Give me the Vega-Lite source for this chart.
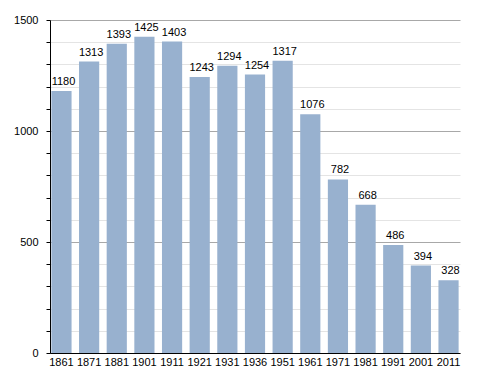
{
  "$schema": "https://vega.github.io/schema/vega-lite/v6.json",
  "width": 410,
  "height": 333,
  "autosize": "none",
  "padding": {"left": 50, "top": 20, "right": 28, "bottom": 20},
  "background": "white",
  "config": {"view": {"stroke": null}, "font": "Liberation Sans"},
  "data": {"values": [
    {"year": "1861", "pop": 1180},
    {"year": "1871", "pop": 1313},
    {"year": "1881", "pop": 1393},
    {"year": "1901", "pop": 1425},
    {"year": "1911", "pop": 1403},
    {"year": "1921", "pop": 1243},
    {"year": "1931", "pop": 1294},
    {"year": "1936", "pop": 1254},
    {"year": "1951", "pop": 1317},
    {"year": "1961", "pop": 1076},
    {"year": "1971", "pop": 782},
    {"year": "1981", "pop": 668},
    {"year": "1991", "pop": 486},
    {"year": "2001", "pop": 394},
    {"year": "2011", "pop": 328}
  ]},
  "encoding": {
    "x": {"field": "year", "type": "ordinal", "sort": null,
      "scale": {"paddingInner": 0.27, "paddingOuter": 0.05},
      "axis": {"title": null, "labelAngle": 0, "ticks": false, "domainColor": "black", "labelColor": "black", "labelFontSize": 11, "labelPadding": 3}},
    "y": {"field": "pop", "type": "quantitative",
      "scale": {"domain": [0, 1500], "nice": false},
      "axis": {"title": null, "values": [0,100,200,300,400,500,600,700,800,900,1000,1100,1200,1300,1400,1500],
        "labelExpr": "datum.value % 500 == 0 ? datum.label : ''",
        "format": "d",
        "gridColor": {"expr": "datum.value % 500 == 0 ? '#a8a8a8' : '#e4e4e4'"},
        "domainColor": "black", "tickColor": "black", "tickSize": 4,
        "labelPadding": 8, "labelColor": "black", "labelFontSize": 11}}
  },
  "layer": [
    {"mark": {"type": "bar", "color": "#98b1cf"}},
    {"mark": {"type": "text", "baseline": "bottom", "dy": -4, "dx": 2, "fontSize": 11, "color": "black"},
     "encoding": {"text": {"field": "pop", "type": "quantitative"}}}
  ]
}
